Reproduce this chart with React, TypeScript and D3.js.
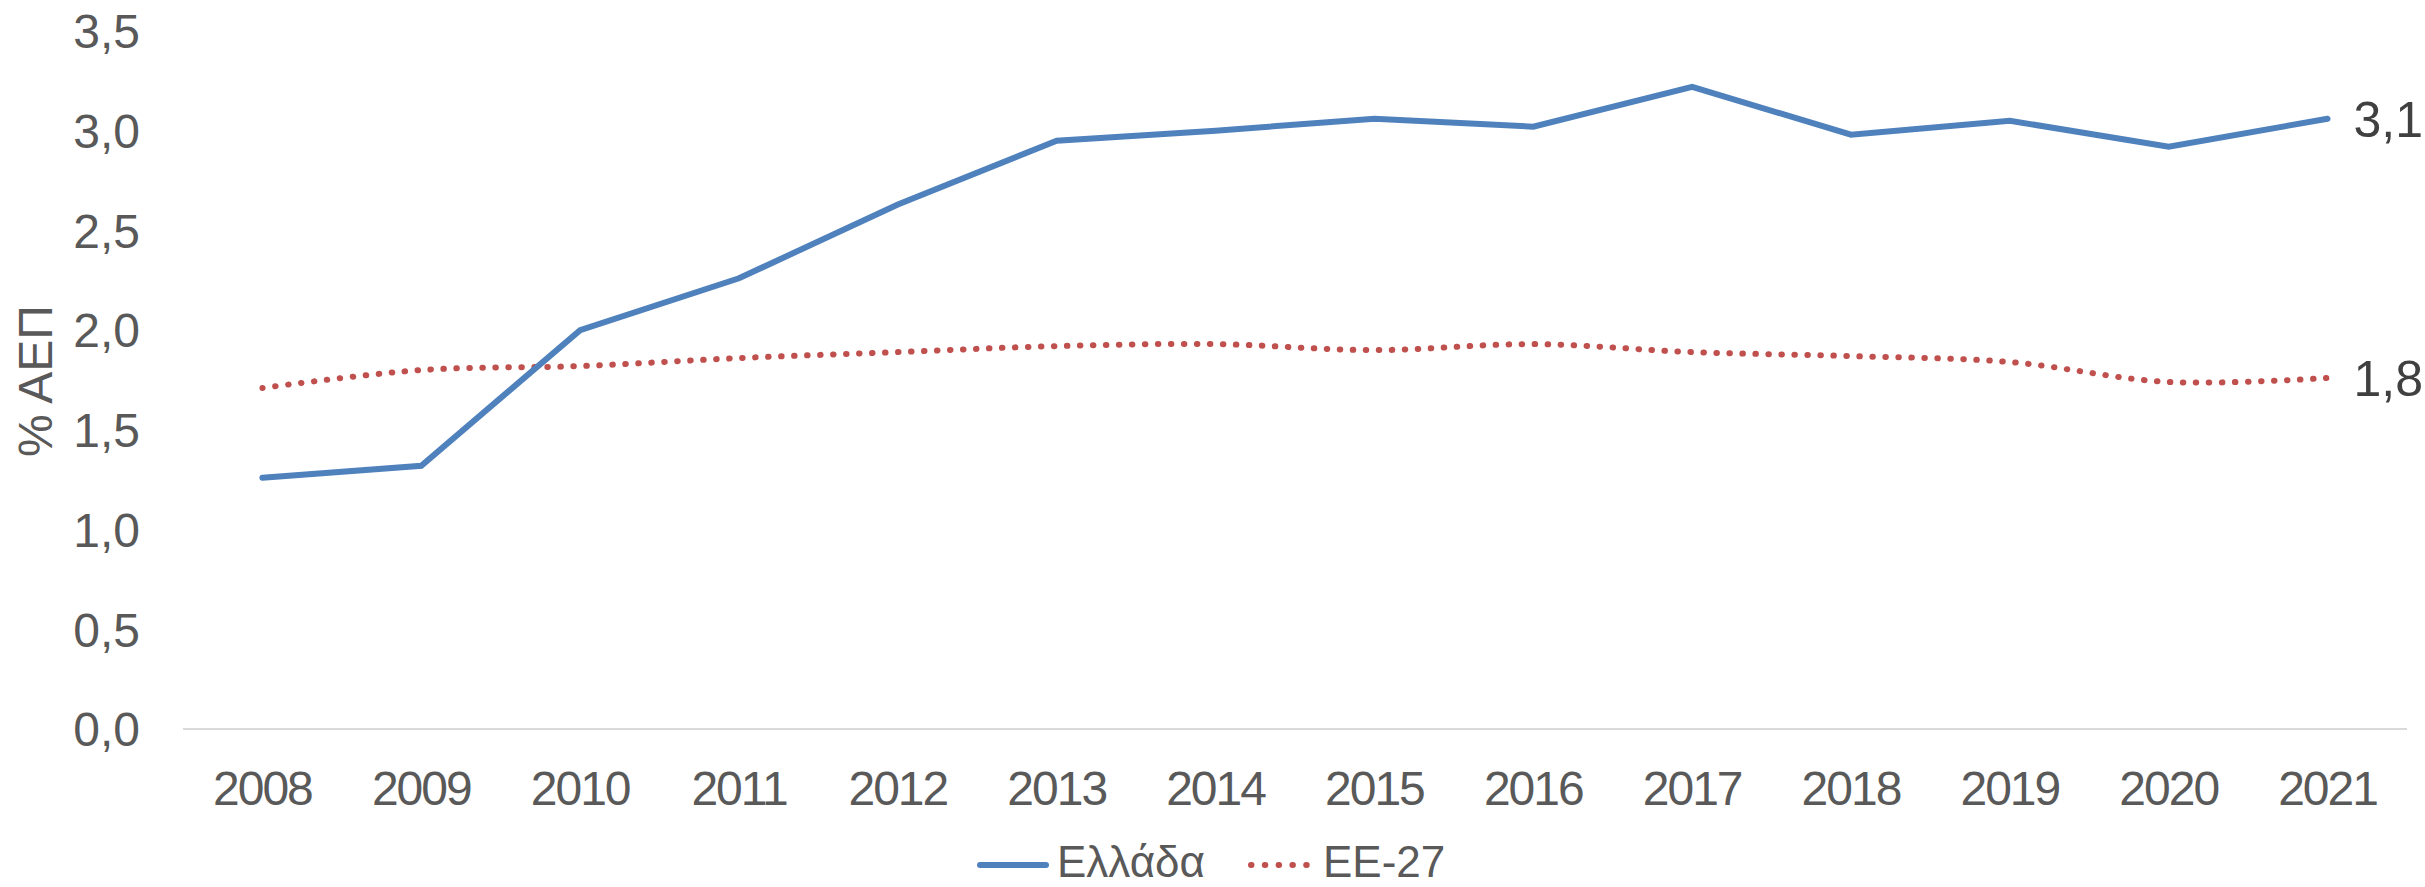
import React from "react";
import * as d3 from "d3";

const years = ["2008","2009","2010","2011","2012","2013","2014","2015","2016","2017","2018","2019","2020","2021"];
const greece = [1.26, 1.32, 2.0, 2.26, 2.63, 2.95, 3.0, 3.06, 3.02, 3.22, 2.98, 3.05, 2.92, 3.06];
const eu27 = [1.71, 1.80, 1.82, 1.86, 1.89, 1.92, 1.93, 1.90, 1.93, 1.89, 1.87, 1.84, 1.74, 1.76];
const yTicks = [0, 0.5, 1, 1.5, 2, 2.5, 3, 3.5];
const seriesNames = ["Ελλάδα", "ΕΕ-27"];
const yTitle = "% ΑΕΠ";

const W = 2425, H = 887;
const FONT = "'Liberation Sans', Arial, sans-serif";
const BLUE = "#4F81BD";
const RED = "#C0504D";

export default function App() {
  const x = d3.scaleBand<string>().domain(years).range([183, 2407]);
  const cx = (y: string) => (x(y) as number) + x.bandwidth() / 2;
  const y = d3.scaleLinear().domain([0, 3.5]).range([729, 31]);
  const fmt = (v: number) => v.toFixed(1).replace(".", ",");

  const blueLine = d3.line<number>().x((_, i) => cx(years[i])).y((v) => y(v))(greece) as string;
  const redLine = d3
    .line<number>()
    .x((_, i) => cx(years[i]))
    .y((v) => y(v))
    .curve(d3.curveCatmullRom.alpha(0.5))(eu27) as string;

  const last = years.length - 1;

  return (
    <svg width={W} height={H} style={{ display: "block", position: "absolute", left: 0, top: 0 }}>
      <rect width={W} height={H} fill="#fff" />
      {yTicks.map((t) => (
        <text key={t} x={140} y={y(t)} dy="0.36em" textAnchor="end" fontFamily={FONT} fontSize={48} fill="#595959">
          {fmt(t)}
        </text>
      ))}
      <text
        transform={`translate(52,381) rotate(-90)`}
        textAnchor="middle"
        fontFamily={FONT}
        fontSize={48}
        fill="#595959"
      >
        {yTitle}
      </text>
      <line x1={183} x2={2407} y1={y(0)} y2={y(0)} stroke="#d9d9d9" strokeWidth={2} />
      {years.map((yr) => (
        <text key={yr} x={cx(yr)} y={805} textAnchor="middle" fontFamily={FONT} fontSize={48} letterSpacing={-2} fill="#595959">
          {yr}
        </text>
      ))}
      <path d={redLine} fill="none" stroke={RED} strokeWidth={6} strokeLinecap="round" strokeDasharray="0.5 12.5" />
      <path d={blueLine} fill="none" stroke={BLUE} strokeWidth={6} strokeLinecap="round" strokeLinejoin="miter" />
      <text x={cx(years[last]) + 26} y={y(greece[last])} dy="0.36em" fontFamily={FONT} fontSize={50} fill="#404040">
        {fmt(Math.round(greece[last] * 10) / 10)}
      </text>
      <text x={cx(years[last]) + 26} y={y(eu27[last])} dy="0.36em" fontFamily={FONT} fontSize={50} fill="#404040">
        {fmt(Math.round(eu27[last] * 10) / 10)}
      </text>
      <line x1={980} x2={1046} y1={865} y2={865} stroke={BLUE} strokeWidth={6} strokeLinecap="round" />
      <text x={1057} y={877} fontFamily={FONT} fontSize={44} fill="#595959">{seriesNames[0]}</text>
      <line x1={1251} x2={1320} y1={865} y2={865} stroke={RED} strokeWidth={6} strokeLinecap="round" strokeDasharray="0.5 13.3" />
      <text x={1323} y={877} fontFamily={FONT} fontSize={44} fill="#595959">{seriesNames[1]}</text>
    </svg>
  );
}
